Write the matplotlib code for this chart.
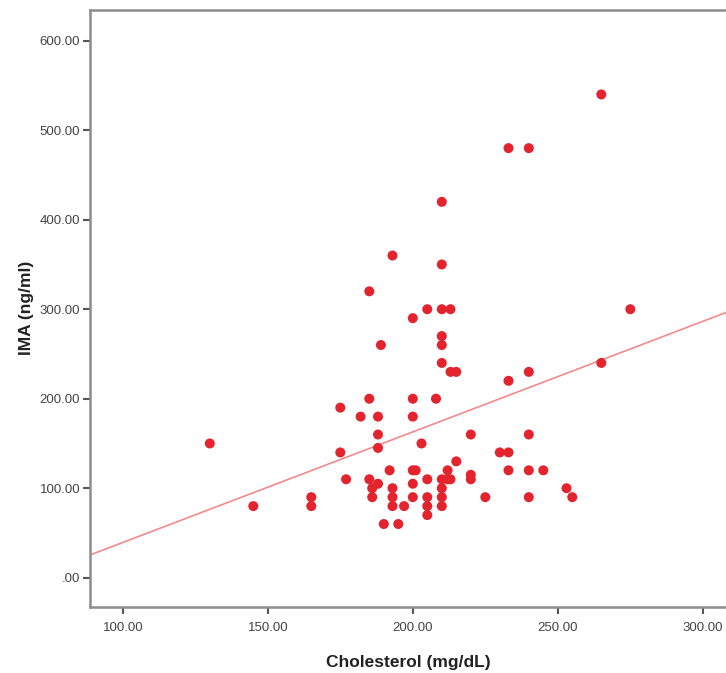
import matplotlib
matplotlib.use("Agg")
import matplotlib.pyplot as plt
import numpy as np
from matplotlib.ticker import FuncFormatter

# cholesterol (mg/dL) and IMA (ng/ml)
cholesterol = [
    130, 145, 165, 165, 175, 175, 177, 182, 185, 185,
    185, 186, 186, 188, 188, 188, 188, 189, 190, 192,
    193, 193, 193, 193, 195, 197, 200, 200, 200, 200,
    201, 200, 200, 203, 205, 205, 205, 205, 205, 208,
    210, 210, 210, 210, 210, 210, 210, 210, 210, 210,
    212, 212, 213, 213, 213, 215, 215, 220, 220, 220,
    225, 230, 233, 233, 233, 233, 240, 240, 240, 240,
    240, 245, 253, 255, 265, 265, 275,
]
ima = [
    150, 80, 90, 80, 190, 140, 110, 180, 320, 200,
    110, 100, 90, 180, 160, 145, 105, 260, 60, 120,
    360, 100, 90, 80, 60, 80, 290, 200, 180, 120,
    120, 105, 90, 150, 300, 110, 90, 80, 70, 200,
    420, 350, 300, 270, 260, 240, 110, 100, 90, 80,
    120, 110, 110, 300, 230, 230, 130, 160, 115, 110,
    90, 140, 140, 480, 220, 120, 480, 230, 160, 120,
    90, 120, 100, 90, 540, 240, 300,
]

x_ticks = [100, 150, 200, 250, 300]
y_ticks = [0, 100, 200, 300, 400, 500, 600]

x = np.array(cholesterol, dtype=float)
y = np.array(ima, dtype=float)

fig = plt.figure(figsize=(7.26, 6.73), dpi=100)
ax = fig.add_axes([0.124, 0.0985, 0.876, 0.8866])

ax.scatter(x, y, s=52, color='#e3242f', edgecolors='none', zorder=3)

# linear fit line across the whole axis
xlim = (88.7, 308.0)
slope, intercept = np.polyfit(x, y, 1)
xs = np.array(xlim)
ax.plot(xs, intercept + slope * xs, color='#f28a8a', linewidth=1.2, zorder=2)

ax.set_xlim(*xlim)
ax.set_ylim(-32.4, 634.3)
ax.set_xticks(x_ticks)
ax.set_yticks(y_ticks)

def fmt(v, pos):
    s = f"{v:.2f}"
    return s[1:] if s.startswith("0") else s

ax.xaxis.set_major_formatter(FuncFormatter(fmt))
ax.yaxis.set_major_formatter(FuncFormatter(fmt))

for side in ['left', 'bottom', 'top']:
    ax.spines[side].set_color('#8c8c8c')
    ax.spines[side].set_linewidth(1.8)
ax.spines['right'].set_visible(False)

ax.tick_params(axis='both', direction='out', length=5, width=1.5, color='#555555',
               labelsize=9.5, labelcolor='#444444', pad=2)
ax.tick_params(axis='x', pad=6)
for lab in ax.get_xticklabels() + ax.get_yticklabels():
    lab.set_family('Liberation Sans')

ax.set_xlabel('Cholesterol (mg/dL)', fontsize=12.5, fontweight='bold',
              family='Liberation Sans', color='#222222', labelpad=15)
ax.set_ylabel('IMA (ng/ml)', fontsize=12.5, fontweight='bold',
              family='Liberation Sans', color='#222222', labelpad=4)

fig.savefig('out.png', dpi=100)
